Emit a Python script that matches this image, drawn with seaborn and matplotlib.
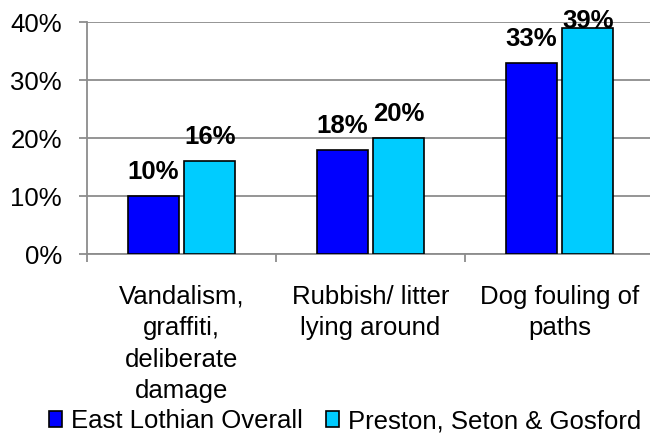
import matplotlib
matplotlib.use("Agg")
import matplotlib.pyplot as plt
import seaborn as sns
import pandas as pd

categories = ["Vandalism,\ngraffiti,\ndeliberate\ndamage",
              "Rubbish/ litter\nlying around",
              "Dog fouling of\npaths"]
series_names = ["East Lothian Overall", "Preston, Seton & Gosford"]
east_lothian = [10, 18, 33]
preston = [16, 20, 39]
y_ticks = [0, 10, 20, 30, 40]
y_tick_labels = ["0%", "10%", "20%", "30%", "40%"]
colors = ["#0000FF", "#00CCFF"]

df = pd.DataFrame({
    "category": categories * 2,
    "series": [series_names[0]] * 3 + [series_names[1]] * 3,
    "value": east_lothian + preston,
})

sns.set_theme(style="white")
plt.rcParams["font.family"] = ["Liberation Sans", "DejaVu Sans"]
plt.rcParams["text.color"] = "black"

fig = plt.figure(figsize=(6.5, 4.37), dpi=100)
ax = fig.add_axes([87 / 650, 1 - 254 / 437, 567 / 650, 232 / 437])

sns.barplot(data=df, x="category", y="value", hue="series",
            palette=colors, saturation=1, width=0.6, gap=0.1, edgecolor="black",
            linewidth=1.2, ax=ax, legend=True, zorder=3)

handles, labels = ax.get_legend_handles_labels()
ax.get_legend().remove()

ax.set_ylim(0, 40)
ax.set_xlim(-0.5, 2.5)
ax.set_yticks(y_ticks)
ax.set_yticklabels(y_tick_labels, fontsize=18.5)
ax.yaxis.grid(True, color="#8c8c8c", linewidth=1.3, zorder=0)
ax.set_axisbelow(True)
ax.tick_params(axis="y", which="major", length=6, width=1.3, color="#8c8c8c",
               pad=12, left=True, labelcolor="black")

ax.set_xticks([-0.5, 0.5, 1.5, 2.5])
ax.set_xticklabels(["", "", "", ""])
ax.set_xticks([0, 1, 2], minor=True)
ax.set_xticklabels(categories, minor=True, fontsize=18.5, linespacing=1.4)
ax.tick_params(axis="x", which="major", length=6, width=1.3, color="#8c8c8c",
               bottom=True)
ax.tick_params(axis="x", which="minor", length=0, pad=22, labelcolor="black")

ax.set_xlabel("")
ax.set_ylabel("")
for s in ["top", "right"]:
    ax.spines[s].set_visible(False)
for s in ["left", "bottom"]:
    ax.spines[s].set_color("#8c8c8c")
    ax.spines[s].set_linewidth(1.3)

for cont in ax.containers:
    for p in cont:
        h = p.get_height()
        ax.text(p.get_x() + p.get_width() / 2, min(h + 2.9, 39.0),
                f"{h:.0f}%", ha="center", va="baseline",
                fontsize=18.5, fontweight="bold", color="black", zorder=5)

leg = fig.legend(handles, labels, loc="center",
                 bbox_to_anchor=(345 / 650, 1 - 421 / 437),
                 ncol=2, frameon=False, fontsize=18.5, handlelength=0.5,
                 handleheight=0.55, handletextpad=0.35, columnspacing=0.9,
                 borderpad=0, borderaxespad=0)
for t in leg.get_texts():
    t.set_color("black")

fig.savefig("out.png", dpi=100)
